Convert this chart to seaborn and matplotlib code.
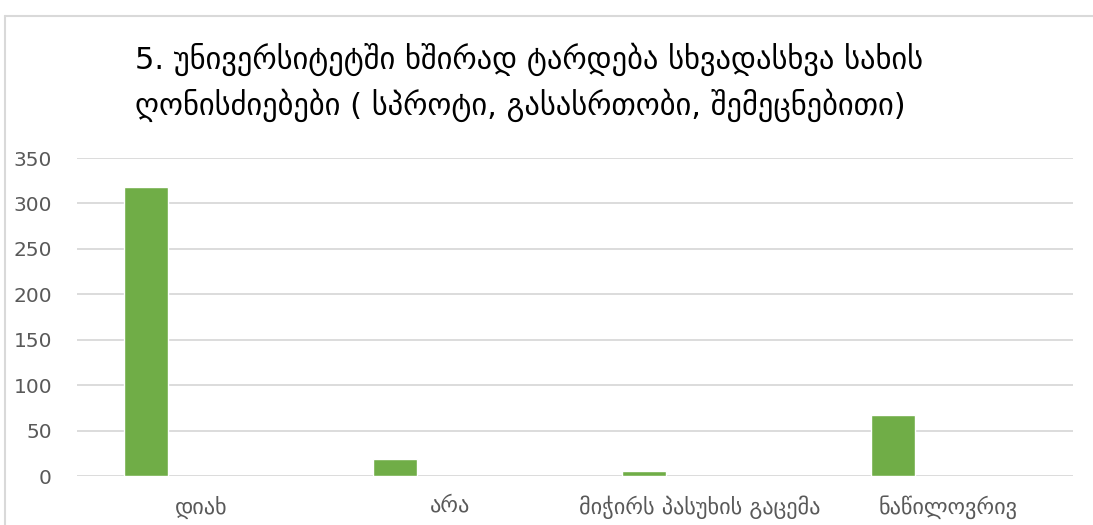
import numpy as np
import pandas as pd
import seaborn as sns
import matplotlib.pyplot as plt
from matplotlib.lines import Line2D

categories = ["დიახ", "არა", "მიჭირს პასუხის გაცემა", "ნაწილოვრივ"]
values = [318, 19, 5, 67]
title = "5. უნივერსიტეტში ხშირად ტარდება სხვადასხვა სახის\nღონისძიებები ( სპროტი, გასასრთობი, შემეცნებითი)"

sns.set_style("white")
plt.rcParams['font.family'] = ['DejaVu Sans']

fig = plt.figure(figsize=(10.93, 5.25), dpi=100)
ax = fig.add_axes([0.0704, 0.0933, 0.9113, 0.6057])

# Excel put the bar left of the category centre (empty 2nd series)
idx = np.arange(len(categories))
df = pd.DataFrame({"pos": idx - 0.223, "val": values})
sns.barplot(data=df, x="pos", y="val", native_scale=True, width=0.177,
            color="#70AD47", saturation=1, ax=ax)

ax.set_xlim(-0.5, len(categories) - 0.5)
ax.set_ylim(0, 350)
ax.set_yticks(range(0, 351, 50))
ax.set_xticks(idx)
ax.set_xticklabels(categories)
ax.set_xlabel("")
ax.set_ylabel("")
ax.yaxis.grid(True, color="#d9d9d9", linewidth=1.3)
ax.set_axisbelow(True)
for s in ax.spines.values():
    s.set_visible(False)
ax.tick_params(axis="y", length=0, labelsize=14.5, colors="#595959", pad=18)
ax.tick_params(axis="x", length=0, labelsize=16, colors="#595959", pad=14)

fig.text(135 / 1093, 1 - 43 / 525, title, fontsize=22, color="black",
         va="top", ha="left", linespacing=1.45)

# chart area border
fig.add_artist(Line2D([5 / 1093, 5 / 1093], [0, 1 - 16 / 525], color="#d9d9d9", lw=1.5))
fig.add_artist(Line2D([5 / 1093, 1], [1 - 16 / 525, 1 - 16 / 525], color="#d9d9d9", lw=1.5))

fig.savefig("out.png", dpi=100)
